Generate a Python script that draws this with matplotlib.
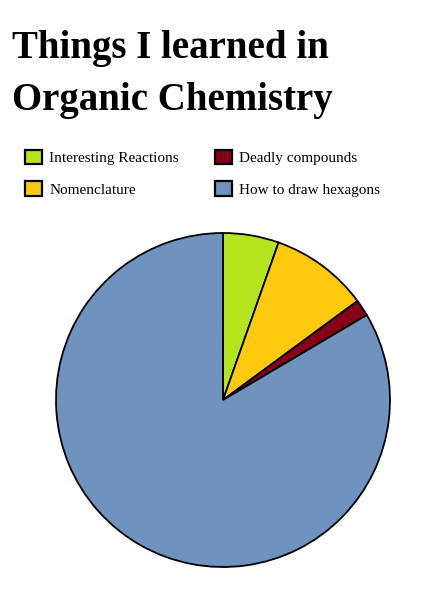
import matplotlib.pyplot as plt

# ---------- data ----------
labels = ["Interesting Reactions", "Nomenclature", "Deadly compounds", "How to draw hexagons"]
shares = [5.4, 9.5, 1.6, 83.5]
colors = ["#b5e61d", "#ffc90e", "#880015", "#7092be"]

plt.rcParams["font.family"] = ["Liberation Serif", "DejaVu Serif"]

fig = plt.figure(figsize=(4.3, 6.13), dpi=100)

# title, two lines
fig.text(12 / 430, 1 - 58 / 613, "Things I learned in", fontsize=28, fontweight="bold",
         ha="left", va="baseline")
fig.text(12 / 430, 1 - 110 / 613, "Organic Chemistry", fontsize=28, fontweight="bold",
         ha="left", va="baseline")

# pie axes: radius ~167px, centre ~(223, 400)
r_px = 167
lim = 1.05
w_px = 2 * lim * r_px
cx, cy = 223, 400
ax = fig.add_axes([(cx - w_px / 2) / 430, (613 - cy - w_px / 2) / 613, w_px / 430, w_px / 613])
wedges, _ = ax.pie(shares, colors=colors, startangle=90, counterclock=False,
                   wedgeprops=dict(edgecolor="black", linewidth=1.3))
ax.set_xlim(-lim, lim)
ax.set_ylim(-lim, lim)
ax.set_aspect("equal")

# legend fills column-wise: green/yellow left, red/blue right
leg = fig.legend(wedges, labels, ncol=2, loc="upper left",
                 bbox_to_anchor=(11 / 430, 1 - 136 / 613), frameon=False,
                 fontsize=11, handlelength=1.1, handleheight=1.1,
                 handletextpad=0.5, columnspacing=2.35, labelspacing=1.06)
for h in leg.legend_handles:
    h.set_linewidth(1.6)

fig.savefig("out.png", dpi=100, facecolor="white")
